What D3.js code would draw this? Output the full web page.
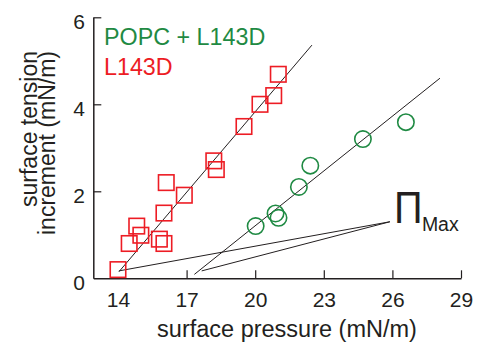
<!DOCTYPE html>
<html>
<head>
<meta charset="utf-8">
<script src="https://cdn.jsdelivr.net/npm/d3@7"></script>
<style>
  html, body { margin: 0; padding: 0; background: #fff; }
  svg { display: block; font-family: "Liberation Sans", Arial, sans-serif; }
</style>
</head>
<body>
<svg id="chart" width="494" height="343"></svg>
<script>
// ---- data ----
const xTicks = [14, 17, 20, 23, 26, 29];
const yTicks = [0, 2, 4, 6];

const l143dX = [14.0, 14.49, 14.82, 15.0, 15.81, 16.01, 16.01, 16.11, 16.9, 18.19, 18.3, 19.51, 20.21, 20.81, 21.01];
const l143dY = [0.20, 0.80, 1.20, 0.99, 0.90, 0.80, 1.50, 2.20, 1.91, 2.70, 2.50, 3.49, 4.00, 4.20, 4.69];

const popcX = [20.02, 20.89, 21.02, 21.91, 22.41, 24.71, 26.59];
const popcY = [1.20, 1.49, 1.39, 2.10, 2.59, 3.20, 3.59];

// fit lines [x1, y1, x2, y2]
const l143dFit = [14.04, 0.15, 22.48, 5.36];
const popcFit = [17.34, 0.09, 28.08, 4.60];

// Pi_Max annotation: two start points and a common end point
const piStarts = [[14.04, 0.17], [17.66, 0.17]];
const piEnd = [25.89, 1.30];

const legendLabels = ["POPC + L143D", "L143D"];
const xTitle = "surface pressure (mN/m)";
const yTitleLines = ["surface tension", "increment (mN/m)"];

// ---- drawing ----
const svg = d3.select("#chart");
const ink = "#231f20";
const green = "#1f8a43";
const red = "#ed1c24";

const x = d3.scaleLinear().domain([12.92, 29]).range([93.3, 461]);
const y = d3.scaleLinear().domain([0, 6]).range([278.3, 17.3]);

// axes
const gx = svg.append("g").attr("transform", `translate(0,${y(0)})`)
  .call(d3.axisBottom(x).tickValues(xTicks).tickFormat(d3.format("d"))
    .tickSizeInner(-8).tickSizeOuter(0).tickPadding(13.5));
const gy = svg.append("g").attr("transform", `translate(${x.range()[0]},0)`)
  .call(d3.axisLeft(y).tickValues(yTicks).tickFormat(d3.format("d"))
    .tickSizeInner(-8).tickSizeOuter(0).tickPadding(8.3));

[gx, gy].forEach(g => {
  g.select(".domain").attr("stroke", ink).attr("stroke-width", 1.5);
  g.selectAll(".tick line").attr("stroke", ink).attr("stroke-width", 1.2);
  g.selectAll("text").attr("fill", ink).attr("font-size", 21).attr("font-family", "Liberation Sans, Arial, sans-serif");
});
gx.selectAll(".tick").filter(d => d === 14).select("line").remove();
gy.selectAll(".tick").filter(d => d === 0).select("line").remove();
gy.selectAll(".tick text").attr("y", 4);

// axis titles
svg.append("text").attr("x", 287).attr("y", 337).attr("text-anchor", "middle")
  .attr("font-size", 23.5).attr("fill", ink).text(xTitle);
const yt = svg.append("g");
yTitleLines.forEach((t, i) => {
  yt.append("text")
    .attr("transform", `translate(${37 + i * 18},51) rotate(-90)`)
    .attr("text-anchor", "end")
    .attr("font-size", 23).attr("fill", ink).text(t);
});

// fit lines
[l143dFit, popcFit].forEach(f => {
  svg.append("line")
    .attr("x1", x(f[0])).attr("y1", y(f[1]))
    .attr("x2", x(f[2])).attr("y2", y(f[3]))
    .attr("stroke", ink).attr("stroke-width", 1);
});

// Pi_Max annotation lines
piStarts.forEach(s => {
  svg.append("line")
    .attr("x1", x(s[0])).attr("y1", y(s[1]))
    .attr("x2", x(piEnd[0])).attr("y2", y(piEnd[1]))
    .attr("stroke", ink).attr("stroke-width", 1);
});
const px = x(piEnd[0]) + 4, py = y(piEnd[1]) + 1;
svg.append("text")
  .attr("transform", `translate(${px},${py}) scale(0.9,1)`)
  .attr("font-size", 44).attr("fill", ink).text("Π");
svg.append("text").attr("x", px + 28).attr("y", py + 8)
  .attr("font-size", 19.5).attr("fill", ink).text("Max");

// markers
const side = 15.5;
svg.append("g").selectAll("rect").data(l143dX.map((v, i) => [v, l143dY[i]])).join("rect")
  .attr("x", d => x(d[0]) - side / 2).attr("y", d => y(d[1]) - side / 2)
  .attr("width", side).attr("height", side)
  .attr("fill", "none").attr("stroke", red).attr("stroke-width", 1.6);

svg.append("g").selectAll("circle").data(popcX.map((v, i) => [v, popcY[i]])).join("circle")
  .attr("cx", d => x(d[0])).attr("cy", d => y(d[1])).attr("r", 8.2)
  .attr("fill", "none").attr("stroke", green).attr("stroke-width", 1.6);

// legend
svg.append("text").attr("x", 104).attr("y", 45).attr("font-size", 23.3).attr("fill", green).text(legendLabels[0]);
svg.append("text").attr("x", 104).attr("y", 75).attr("font-size", 23.3).attr("fill", red).text(legendLabels[1]);
</script>
</body>
</html>
